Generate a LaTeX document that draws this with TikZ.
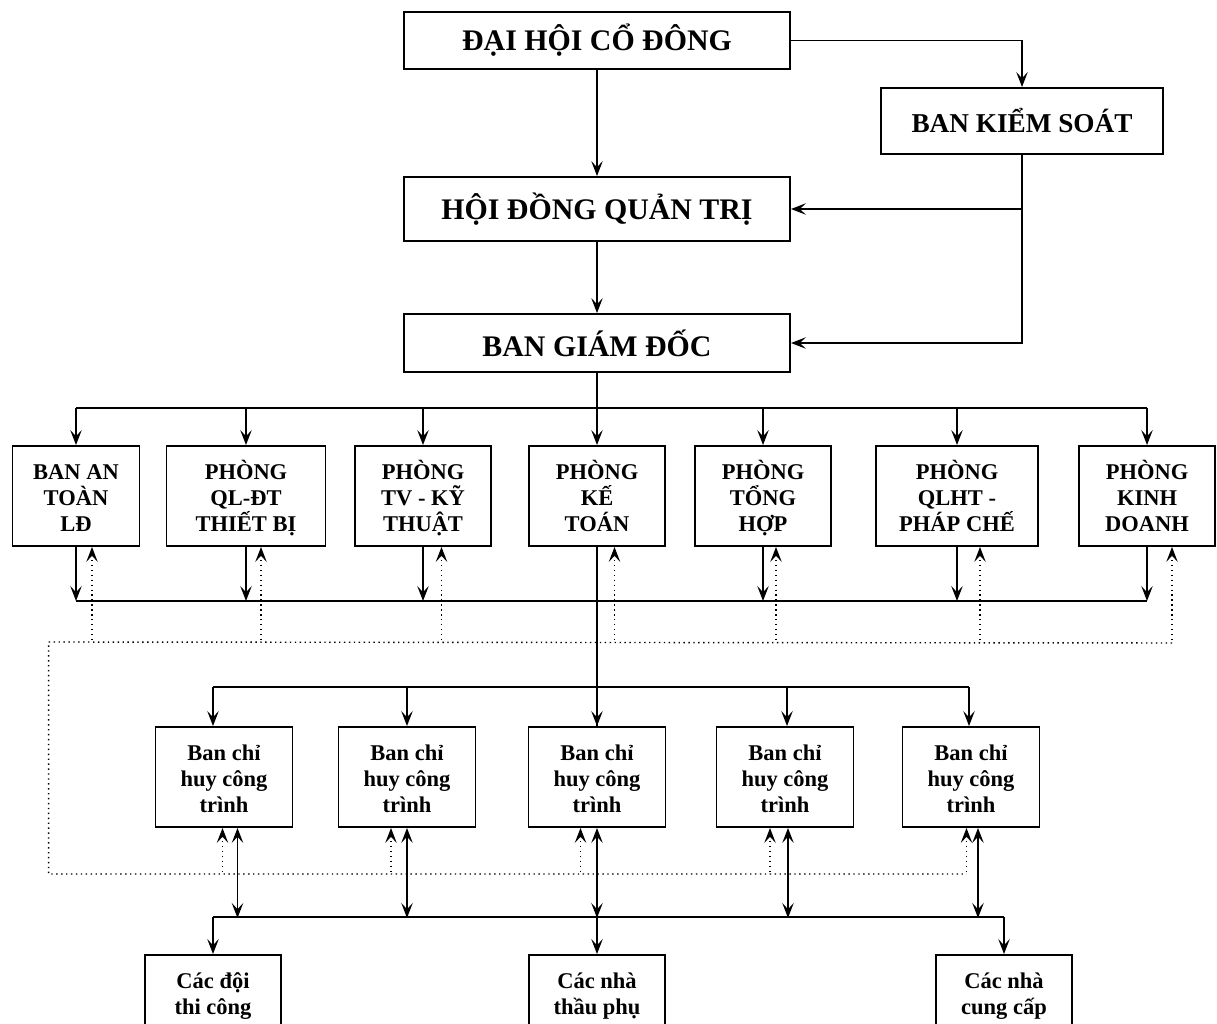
\documentclass[tikz,border=0pt]{standalone}
\usepackage{fontspec}
\setmainfont{Liberation Serif}
\usetikzlibrary{arrows.meta,positioning,calc}

\tikzset{
  box/.style={draw,line width=1.1pt,align=center,inner sep=1pt},
  topbox/.style={box,minimum width=77.2mm,font=\fontsize{17}{20}\selectfont\bfseries},
  dept/.style={box,minimum height=20mm,font=\fontsize{12.8}{14.8}\selectfont\bfseries,
    text height=44pt,text depth=4pt,execute at begin node={\lineskiplimit=-20pt\relax}},
  chbox/.style={dept,minimum width=27.4mm},
  conn/.style={line width=1pt},
  thinconn/.style={line width=0.6pt},
  dotconn/.style={line width=0.8pt,dotted},
}

\begin{document}
\begin{tikzpicture}[x=0.2mm,y=-0.2mm,>={Stealth[length=8.5pt,width=6.5pt,inset=3.5pt]}]
  \clip (0,0) rectangle (1217,1023);
  % top of the chart
  \node[topbox,minimum height=11.4mm] (dhcd) at (597,40.5) {ĐẠI HỘI CỔ ĐÔNG};
  \node[box,minimum width=56.4mm,minimum height=13.2mm,font=\fontsize{15.5}{18}\selectfont\bfseries] (bks) at (1022,121) {BAN KIỂM SOÁT};
  \node[topbox,minimum height=12.8mm] (hdqt) at (597,209) {HỘI ĐỒNG QUẢN TRỊ};
  \node[topbox,minimum height=11.6mm] (bgd) at (597,343) {BAN GIÁM ĐỐC};
  \draw[thinconn,->] (dhcd) -- (hdqt);
  \draw[thinconn,->] (hdqt) -- (bgd);
  \draw[conn,->] (dhcd.east) -| (bks.north);
  \draw[conn,->] (bks.south) |- (bgd.east);
  \draw[conn,->] (bks.south |- hdqt.east) -- (hdqt.east);

  % phong ban
  \coordinate (bus) at (597,408);
  \coordinate (bus2) at (597,601);
  \foreach \i/\x/\w/\t in {1/76/25.4/{BAN AN\\TOÀN\\LĐ},2/246/31.8/{PHÒNG\\QL-ĐT\\THIẾT BỊ},
      3/423/27.2/{PHÒNG\\TV - KỸ\\THUẬT},4/597/27.2/{PHÒNG\\KẾ\\TOÁN},5/763/27.2/{PHÒNG\\TỔNG\\HỢP},
      6/957/32.4/{PHÒNG\\QLHT -\\PHÁP CHẾ},7/1147/27.2/{PHÒNG\\KINH\\DOANH}}
    \node[dept,minimum width=\w mm] (d\i) at (\x,496) {\t};
  \draw[conn] (d1.north |- bus) -- (d7.north |- bus);
  \draw[conn] (d1.south |- bus2) -- (d7.south |- bus2);
  \draw[conn,->] (bgd) -- (d4);
  \foreach \i in {1,2,3,5,6,7} {
    \draw[conn,->] (d\i.north |- bus) -- (d\i.north);
    \draw[conn,->] (d\i.south) -- (d\i.south |- bus2);
  }
  \foreach \i/\o in {1/3.2,2/3,3/3.7,4/3.5,5/2.6,6/4.6,7/5}
    \draw[dotconn,<-] ([xshift=\o mm]d\i.south) -- ++(0,96);

  % ban chi huy cong trinh
  \foreach \i/\x/\a/\b/\c in {1/224/-2.2/-0.3/2.7,2/407/0/-3.2/0,3/597/0/-3.3/0,4/785/0.4/-3/0.6,5/971/-0.4/-0.9/1.4} {
    \node[chbox] (c\i) at (\x,777) {Ban chỉ\\huy công\\trình};
    \draw[conn,<-] ([xshift=\a mm]c\i.north) -- ++(0,-39);
    \draw[dotconn,<-] ([xshift=\b mm]c\i.south) -- ++(0,46);
    \draw[conn,<->] ([xshift=\c mm]c\i.south) -- ++(0,90);
  }
  \draw[conn] (d4) -- (c3);
  \draw[conn] ([xshift=-2.2mm,yshift=7.8mm]c1.north) -- ([xshift=-0.4mm,yshift=7.8mm]c5.north);
  % dotted feedback
  \coordinate (dbus) at (48.6,642);
  \draw[dotconn] ([xshift=5mm,yshift=-19.2mm]d7.south) -- (dbus) |- ([xshift=-0.9mm,yshift=-9.2mm]c5.south);

  % doi thi cong, nha thau, nha cung cap
  \coordinate (bbus) at (597,917);
  \foreach \i/\x/\t in {1/213/{Các đội\\thi công\\~},2/597/{Các nhà\\thầu phụ\\~},3/1004/{Các nhà\\cung cấp\\~}}
    \node[chbox,minimum width=27.2mm] (b\i) at (\x,1005) {\t};
  \draw[conn] (b1.north |- bbus) -- (b3.north |- bbus);
  \foreach \i in {1,2,3}
    \draw[conn,->] (b\i.north |- bbus) -- (b\i.north);
\end{tikzpicture}
\end{document}
